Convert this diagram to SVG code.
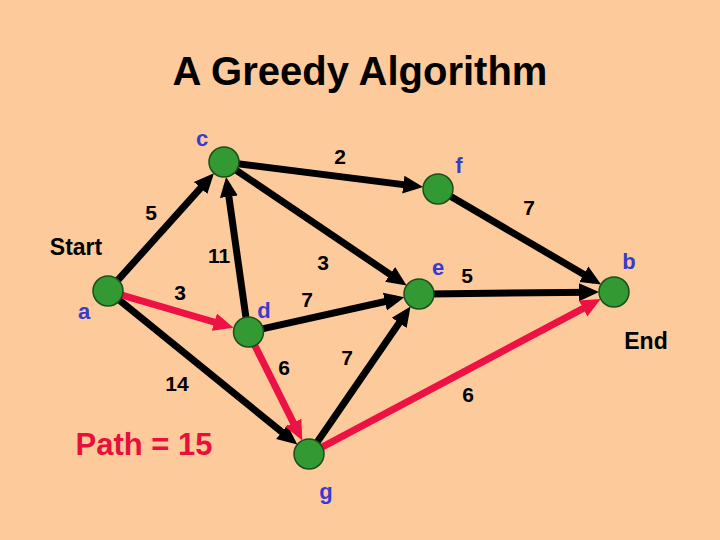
<svg xmlns="http://www.w3.org/2000/svg" width="720" height="540" viewBox="0 0 720 540">
<style>
text{font-family:"Liberation Sans",Arial,sans-serif;font-weight:bold}
.w{font-size:21px;fill:#000}
.t{font-size:23px;fill:#000}
.n{font-size:22px;fill:#3a3ad0}
.e{stroke:#000;stroke-width:7;fill:none}
.r{stroke:#ee1144;stroke-width:7;fill:none}
.nd{fill:#339933;stroke:#1c4d1c;stroke-width:1.5}
</style>
<defs>
<marker id="ak" markerUnits="userSpaceOnUse" viewBox="0 -10 21 20" refX="12" refY="0" markerWidth="21" markerHeight="20" orient="auto"><path d="M0,-9 L20,0 L0,9 z" fill="#000"/></marker>
<marker id="ar" markerUnits="userSpaceOnUse" viewBox="0 -10 21 20" refX="12" refY="0" markerWidth="21" markerHeight="20" orient="auto"><path d="M0,-9 L20,0 L0,9 z" fill="#ee1144"/></marker>
</defs>
<rect width="720" height="540" fill="#fdcb9b"/>
<text x="360" y="85" text-anchor="middle" style="font-size:40px">A Greedy Algorithm</text>
<g id="connectors">
<line class="e" x1="114.7" y1="283.6" x2="208.6" y2="179.1" marker-end="url(#ak)"/>
<line class="e" x1="233.9" y1="163.3" x2="415.2" y2="186.1" marker-end="url(#ak)"/>
<line class="e" x1="232.3" y1="167.6" x2="400" y2="281.1" marker-end="url(#ak)"/>
<line class="e" x1="246.6" y1="322.1" x2="227.2" y2="184.8" marker-end="url(#ak)"/>
<line class="e" x1="257.8" y1="329.8" x2="396.6" y2="299" marker-end="url(#ak)"/>
<line class="e" x1="314.7" y1="445.8" x2="406" y2="313" marker-end="url(#ak)"/>
<line class="e" x1="115.8" y1="297.3" x2="291.1" y2="439.5" marker-end="url(#ak)"/>
<line class="e" x1="446.6" y1="194.1" x2="594.2" y2="280.4" marker-end="url(#ak)"/>
<line class="e" x1="429" y1="293.9" x2="591" y2="292.2" marker-end="url(#ak)"/>
<line class="r" x1="117.6" y1="293.8" x2="225.9" y2="325.5" marker-end="url(#ar)"/>
<line class="r" x1="252.5" y1="340.9" x2="298.7" y2="433.4" marker-end="url(#ar)"/>
<line class="r" x1="317.8" y1="449.3" x2="593.7" y2="302.8" marker-end="url(#ar)"/>
</g>
<g id="node-a"><circle class="nd" cx="108" cy="291" r="15"/><text class="n" x="84" y="319" text-anchor="middle">a</text></g>
<g id="node-c"><circle class="nd" cx="224" cy="162" r="15"/><text class="n" x="202" y="146" text-anchor="middle">c</text></g>
<g id="node-d"><circle class="nd" cx="248.5" cy="332" r="15"/><text class="n" x="264" y="318" text-anchor="middle">d</text></g>
<g id="node-f"><circle class="nd" cx="438" cy="189" r="15"/><text class="n" x="459" y="173" text-anchor="middle">f</text></g>
<g id="node-e"><circle class="nd" cx="419" cy="294" r="15"/><text class="n" x="438" y="275" text-anchor="middle">e</text></g>
<g id="node-b"><circle class="nd" cx="614" cy="292" r="15"/><text class="n" x="629" y="269" text-anchor="middle">b</text></g>
<g id="node-g"><circle class="nd" cx="309" cy="454" r="15"/><text class="n" x="326" y="499" text-anchor="middle">g</text></g>
<g id="labels">
<text class="t" x="76" y="255" text-anchor="middle">Start</text>
<text class="t" x="646" y="349" text-anchor="middle">End</text>
<text class="w" x="340" y="164" text-anchor="middle">2</text>
<text class="w" x="151" y="220" text-anchor="middle">5</text>
<text class="w" x="529" y="215" text-anchor="middle">7</text>
<text class="w" x="219" y="263" text-anchor="middle">11</text>
<text class="w" x="323" y="270" text-anchor="middle">3</text>
<text class="w" x="180" y="300" text-anchor="middle">3</text>
<text class="w" x="307" y="307" text-anchor="middle">7</text>
<text class="w" x="467" y="283" text-anchor="middle">5</text>
<text class="w" x="284" y="375" text-anchor="middle">6</text>
<text class="w" x="347" y="365" text-anchor="middle">7</text>
<text class="w" x="177" y="391" text-anchor="middle">14</text>
<text class="w" x="468" y="402" text-anchor="middle">6</text>
<text x="144" y="455" text-anchor="middle" style="font-size:31px;fill:#e8103a">Path = 15</text>
</g>
</svg>
